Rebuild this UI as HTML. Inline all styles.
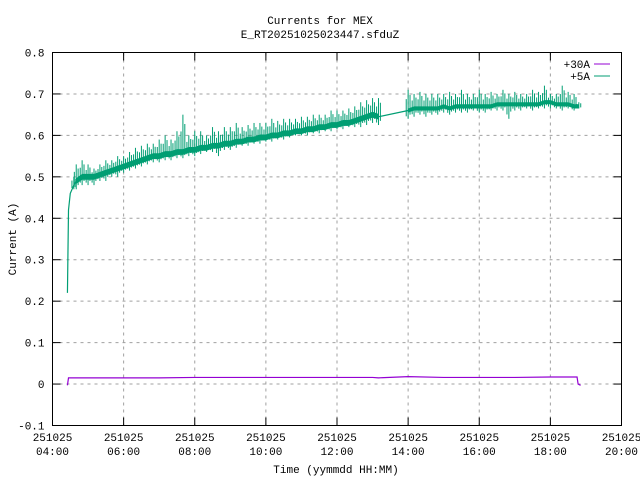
<!DOCTYPE html>
<html><head><meta charset="utf-8"><style>
body{margin:0;background:#fff}
svg{display:block}
text{font-family:"Liberation Mono","DejaVu Sans Mono",monospace;font-size:11px;fill:#000}
</style></head><body>
<svg id="chart" width="640" height="480" viewBox="0 0 640 480">
<text x="320" y="24" text-anchor="middle">Currents for MEX</text>
<text x="320" y="38" text-anchor="middle">E_RT20251025023447.sfduZ</text>
<text x="16" y="239" text-anchor="middle" transform="rotate(-90 16 239)">Current (A)</text>
<text x="336" y="473" text-anchor="middle">Time (yymmdd HH:MM)</text>
<g id="grid"></g>
<g id="series"></g>
<rect x="52.5" y="52.5" width="569" height="373" fill="none" stroke="#000" stroke-width="1"/>
<g id="axes"></g>
<g>
<text x="590" y="68" text-anchor="end">+30A</text>
<line x1="594" y1="64" x2="610" y2="64" stroke="#9400d3" stroke-width="1"/>
<text x="590" y="80" text-anchor="end">+5A</text>
<line x1="594" y1="76" x2="610" y2="76" stroke="#009e73" stroke-width="1"/>
</g>
</svg>
<script>
const yTicks=[-0.1,0,0.1,0.2,0.3,0.4,0.5,0.6,0.7,0.8];
const xTicks=[4,6,8,10,12,14,16,18,20];
const xTickDates=["251025","251025","251025","251025","251025","251025","251025","251025","251025"];
const xTickTimes=["04:00","06:00","08:00","10:00","12:00","14:00","16:00","18:00","20:00"];
const g1Times=[4.42,4.45,4.5,4.6,4.667,4.833,5,5.167,5.333,5.5,5.667,5.833,6,6.167,6.333,6.5,6.667,6.833,7,7.167,7.333,7.5,7.667,7.833,8,8.167,8.333,8.5,8.667,8.833,9,9.167,9.333,9.5,9.667,9.833,10,10.167,10.333,10.5,10.667,10.833,11,11.167,11.333,11.5,11.667,11.833,12,12.167,12.333,12.5,12.667,12.833,13,13.167];
const g1Mid=[0.22,0.42,0.46,0.48,0.49,0.50,0.50,0.50,0.505,0.51,0.515,0.52,0.525,0.53,0.535,0.54,0.545,0.55,0.55,0.555,0.555,0.56,0.56,0.565,0.565,0.57,0.57,0.575,0.575,0.58,0.58,0.585,0.585,0.59,0.59,0.595,0.595,0.60,0.60,0.605,0.605,0.61,0.61,0.615,0.615,0.62,0.62,0.625,0.625,0.63,0.63,0.635,0.64,0.645,0.65,0.645];
const g1Hi=[0.22,0.42,0.47,0.50,0.53,0.54,0.53,0.52,0.53,0.54,0.54,0.55,0.55,0.56,0.57,0.575,0.58,0.58,0.59,0.60,0.59,0.61,0.65,0.60,0.61,0.61,0.60,0.62,0.61,0.62,0.62,0.63,0.62,0.625,0.63,0.63,0.63,0.64,0.635,0.64,0.64,0.64,0.645,0.645,0.65,0.65,0.65,0.66,0.66,0.66,0.665,0.67,0.68,0.685,0.69,0.69];
const g1Lo=[0.22,0.40,0.45,0.47,0.47,0.48,0.48,0.48,0.49,0.49,0.50,0.50,0.51,0.515,0.52,0.525,0.53,0.535,0.535,0.54,0.54,0.545,0.545,0.55,0.55,0.555,0.56,0.56,0.55,0.565,0.565,0.57,0.575,0.575,0.58,0.58,0.585,0.585,0.59,0.59,0.595,0.60,0.60,0.60,0.605,0.605,0.61,0.61,0.615,0.615,0.62,0.62,0.62,0.625,0.63,0.625];
const g2Times=[14,14.167,14.333,14.5,14.667,14.833,15,15.167,15.333,15.5,15.667,15.833,16,16.167,16.333,16.5,16.667,16.833,17,17.167,17.333,17.5,17.667,17.833,18,18.167,18.333,18.5,18.667,18.8];
const g2Mid=[0.66,0.665,0.665,0.665,0.665,0.665,0.67,0.665,0.67,0.67,0.67,0.67,0.67,0.67,0.67,0.675,0.675,0.675,0.675,0.675,0.675,0.675,0.675,0.68,0.68,0.675,0.675,0.675,0.67,0.67];
const g2Hi=[0.71,0.70,0.705,0.70,0.70,0.70,0.70,0.705,0.70,0.71,0.70,0.70,0.71,0.70,0.705,0.70,0.71,0.70,0.705,0.70,0.70,0.71,0.705,0.72,0.70,0.70,0.72,0.705,0.70,0.68];
const g2Lo=[0.64,0.645,0.65,0.645,0.65,0.65,0.655,0.65,0.655,0.655,0.655,0.66,0.655,0.655,0.66,0.66,0.66,0.64,0.66,0.66,0.665,0.66,0.665,0.665,0.665,0.665,0.66,0.665,0.66,0.665];
const pTimes=[4.42,4.45,4.6,5,6,7,8,9,10,11,12,13,13.167,14,15,16,17,18,18.75,18.78,18.85];
const pVals=[-0.003,0.015,0.015,0.015,0.015,0.015,0.016,0.016,0.016,0.016,0.016,0.016,0.015,0.018,0.016,0.016,0.016,0.017,0.017,0.0,-0.003];

const L=52.5,R=621.5,T=52.5,B=425.5;
const sx=h=>L+(h-4)/16*(R-L);
const sy=v=>B-(v+0.1)/0.9*(B-T);
const NS="http://www.w3.org/2000/svg";
function mk(tag,attrs,parent){const e=document.createElementNS(NS,tag);for(const k in attrs)e.setAttribute(k,attrs[k]);parent.appendChild(e);return e;}
const grid=document.getElementById('grid'),axes=document.getElementById('axes'),series=document.getElementById('series');
yTicks.forEach((v,i)=>{
  const y=sy(v);
  if(i>0&&i<yTicks.length-1){const gl=mk('line',{x1:L,x2:R,y1:y,y2:y,stroke:'#a0a0a0','stroke-dasharray':'3,4'},grid);
  
  }
  const t1=mk('line',{x1:L,x2:L+8,y1:y,y2:y,stroke:'#000'},axes);
  
  
  const t2=mk('line',{x1:R-8,x2:R,y1:y,y2:y,stroke:'#000'},axes);
  
  
  const tx=mk('text',{x:L-8,y:y+4,'text-anchor':'end'},axes);
  tx.textContent=(Math.round(v*10)/10).toString();
  
  
});
xTicks.forEach((h,i)=>{
  const x=sx(h);
  if(i>0&&i<xTicks.length-1){const gl=mk('line',{x1:x,x2:x,y1:T,y2:B,stroke:'#a0a0a0','stroke-dasharray':'3,4'},grid);
  
  }
  const t1=mk('line',{x1:x,x2:x,y1:B-8,y2:B,stroke:'#000'},axes);
  
  
  const t2=mk('line',{x1:x,x2:x,y1:T,y2:T+8,stroke:'#000'},axes);
  
  
  const a=mk('text',{x:x,y:441,'text-anchor':'middle'},axes);a.textContent=xTickDates[i];
  
  
  const b=mk('text',{x:x,y:455,'text-anchor':'middle'},axes);b.textContent=xTickTimes[i];
  
  
});
const pp=mk('polyline',{points:pTimes.map((t,i)=>sx(t)+','+sy(pVals[i])).join(' '),fill:'none',stroke:'#9400d3','stroke-width':1.2},series);


const gT=g1Times.concat(g2Times),gM=g1Mid.concat(g2Mid),gH=g1Hi.concat(g2Hi),gL=g1Lo.concat(g2Lo);
const gl=mk('polyline',{points:gT.map((t,i)=>sx(t)+','+sy(gM[i])).join(' '),fill:'none',stroke:'#009e73','stroke-width':1.2},series);


function band(times,mid,w,name){
  const up=[],dn=[];
  times.forEach((t,i)=>{up.push(sx(t)+','+sy(mid[i]+w));dn.unshift(sx(t)+','+sy(mid[i]-w));});
  const p=mk('polygon',{points:up.concat(dn).join(' '),fill:'#009e73'},series);
  
  
}
band(g1Times.slice(4),g1Mid.slice(4),0.007,'series-5a-band-1');
band(g2Times,g2Mid,0.005,'series-5a-band-2');
gT.forEach((t,i)=>{
  if(i<3) return;
  for(let k=0;k<3;k++){
    const x=sx(t)+(k-1)*1.9;
    const hiV=k===1?gH[i]:gM[i]+(gH[i]-gM[i])*(k===0?0.55:0.75);
    const loV=k===1?gL[i]:gM[i]-(gM[i]-gL[i])*(k===0?0.7:0.5);
    const s=mk('line',{x1:x,x2:x,y1:sy(hiV),y2:sy(loV),stroke:'#009e73','stroke-width':1},series);
    
    
  }
});
</script>
</body></html>
